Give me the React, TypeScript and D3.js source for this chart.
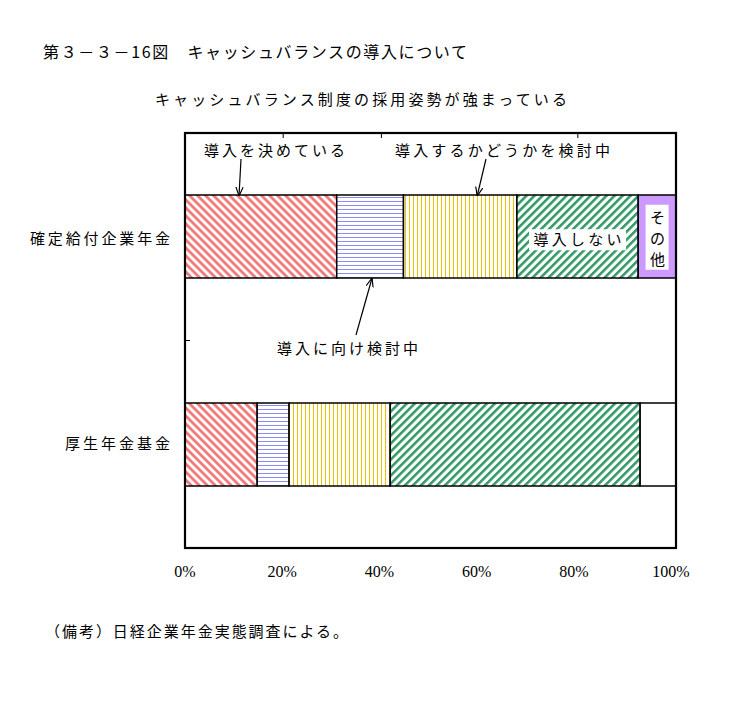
import React from "react";
import * as d3 from "d3";

const categories = ["確定給付企業年金", "厚生年金基金"];
const seriesNames = ["導入を決めている", "導入に向け検討中", "導入するかどうかを検討中", "導入しない", "その他"];
const decided = [30.9, 14.7];
const consideringToward = [13.6, 6.5];
const consideringWhether = [23.1, 20.6];
const notIntroduce = [24.7, 50.9];
const other = [7.7, 7.3];
const xTicks = [0, 20, 40, 60, 80, 100];
const topTicks = [20, 40, 80];

const seriesValues = [decided, consideringToward, consideringWhether, notIntroduce, other];
const fills = ["url(#pRed)", "url(#pBlue)", "url(#pYellow)", "url(#pGreen)", "#cc99ff"];
const otherFillByCat = ["#cc99ff", "#ffffff"];

const W = 734, H = 718;
const M = { left: 185, right: 676, top: 133, bottom: 548 };
const JP = "'Noto Sans CJK JP', sans-serif";

export default function App() {
  const x = d3.scaleLinear().domain([0, 100]).range([M.left, M.right]);
  const y = d3.scaleBand<string>().domain(categories).range([M.top, M.bottom]).padding(0);
  const bh = y.bandwidth() * 0.4;
  const rows = categories.map((c, i) => {
    const o: any = { cat: c };
    seriesNames.forEach((s, k) => (o[s] = seriesValues[k][i]));
    return o;
  });
  const stack = d3.stack<any>().keys(seriesNames)(rows);
  const barTop = (c: string) => Math.round((y(c) as number) + (y.bandwidth() - bh) / 2);
  const barMid = (c: string) => (y(c) as number) + y.bandwidth() / 2;

  const c0 = categories[0];
  const seg = (k: number, i: number) => stack[k][i];
  const green0 = seg(3, 0);
  const other0 = seg(4, 0);
  const greenMid = x((green0[0] + green0[1]) / 2);
  const otherMid = x((other0[0] + other0[1]) / 2);

  return (
    <svg width={W} height={H} style={{ position: "absolute", left: 0, top: 0, background: "#fff" }}>
      <defs>
        <pattern id="pRed" width={5.66} height={5.66} patternUnits="userSpaceOnUse" patternTransform="rotate(-45)">
          <rect width={5.66} height={5.66} fill="#fff" />
          <rect width={2.8} height={5.66} fill="#f27a7a" />
        </pattern>
        <pattern id="pGreen" width={5.66} height={5.66} patternUnits="userSpaceOnUse" patternTransform="rotate(45)">
          <rect width={5.66} height={5.66} fill="#fff" />
          <rect width={2.6} height={5.66} fill="#339966" />
        </pattern>
        <pattern id="pBlue" width={4} height={4} patternUnits="userSpaceOnUse">
          <rect width={4} height={4} fill="#fff" />
          <rect y={1} width={4} height={1} fill="#8c8cf0" />
        </pattern>
        <pattern id="pYellow" width={4} height={4} patternUnits="userSpaceOnUse">
          <rect width={4} height={4} fill="#fff" />
          <rect x={1} width={1} height={4} fill="#f0c000" />
        </pattern>
        <marker id="arr" viewBox="0 0 10 10" refX={10} refY={5} markerWidth={9} markerHeight={9} orient="auto" markerUnits="userSpaceOnUse">
          <path d="M0,1 L10,5 L0,9" fill="none" stroke="#000" strokeWidth={1.3} />
        </marker>
      </defs>

      {/* titles */}
      <text x={43} y={58} fontFamily={JP} fontSize={16} textLength={424} lengthAdjust="spacing">
        第３－３－16図　キャッシュバランスの導入について
      </text>
      <text x={155} y={105} fontFamily={JP} fontSize={15} textLength={412} lengthAdjust="spacing">
        キャッシュバランス制度の採用姿勢が強まっている
      </text>

      {/* bars */}
      {stack.map((layer, k) =>
        layer.map((d, i) => {
          const c = categories[i];
          const fill = k === 4 ? otherFillByCat[i] : fills[k];
          return (
            <rect
              key={`${k}-${i}`}
              x={x(d[0])}
              y={barTop(c)}
              width={x(d[1]) - x(d[0])}
              height={Math.round(bh)}
              fill={fill}
              stroke="#000"
              strokeWidth={1.5}
            />
          );
        })
      )}

      {/* in-bar labels */}
      <rect x={greenMid - 48.5} y={barMid(c0) - 7.5} width={97} height={21} fill="#fff" />
      <text x={greenMid} y={barMid(c0) + 8.5} textAnchor="middle" fontFamily={JP} fontSize={15} textLength={88} lengthAdjust="spacing">
        導入しない
      </text>
      <rect x={otherMid - 11.5} y={barMid(c0) - 32} width={23} height={65} fill="#fff" />
      {["そ", "の", "他"].map((ch, j) => (
        <text key={ch} x={otherMid + 0.5} y={barMid(c0) - 14 + j * 21} textAnchor="middle" fontFamily={JP} fontSize={15}>
          {ch}
        </text>
      ))}

      {/* frame */}
      <rect x={M.left} y={M.top} width={M.right - M.left} height={M.bottom - M.top} fill="none" stroke="#000" strokeWidth={2.2} />
      {topTicks.map((t) => (
        <line key={t} x1={x(t)} x2={x(t)} y1={M.top} y2={M.top + 5} stroke="#000" strokeWidth={1} />
      ))}
      <line x1={M.left} x2={M.left + 5} y1={(M.top + M.bottom) / 2} y2={(M.top + M.bottom) / 2} stroke="#000" strokeWidth={1} />

      {/* category labels */}
      <text x={30} y={244} fontFamily={JP} fontSize={15} textLength={140} lengthAdjust="spacing">
        {categories[0]}
      </text>
      <text x={65} y={449} fontFamily={JP} fontSize={15} textLength={105} lengthAdjust="spacing">
        {categories[1]}
      </text>

      {/* x tick labels */}
      {xTicks.map((t) => (
        <text key={t} x={x(t) - t * 0.05} y={577} textAnchor="middle" fontFamily="'Liberation Serif', serif" fontSize={16}>
          {t}%
        </text>
      ))}

      {/* annotations */}
      <text x={204} y={156} fontFamily={JP} fontSize={15} textLength={141} lengthAdjust="spacing">
        {seriesNames[0]}
      </text>
      <line x1={241} y1={159} x2={x(11)} y2={barTop(c0) + 1} stroke="#000" strokeWidth={1.2} markerEnd="url(#arr)" />

      <text x={395} y={156} fontFamily={JP} fontSize={15} textLength={215} lengthAdjust="spacing">
        {seriesNames[2]}
      </text>
      <line x1={486} y1={159} x2={x(59.5)} y2={barTop(c0) + 1} stroke="#000" strokeWidth={1.2} markerEnd="url(#arr)" />

      <text x={277} y={354} fontFamily={JP} fontSize={15} textLength={141} lengthAdjust="spacing">
        {seriesNames[1]}
      </text>
      <line x1={356} y1={335} x2={x(38.1)} y2={barTop(c0) + Math.round(bh)} stroke="#000" strokeWidth={1.2} markerEnd="url(#arr)" />

      {/* note */}
      <text x={45} y={637} fontFamily={JP} fontSize={15} textLength={303} lengthAdjust="spacing">
        （備考）日経企業年金実態調査による。
      </text>
    </svg>
  );
}
